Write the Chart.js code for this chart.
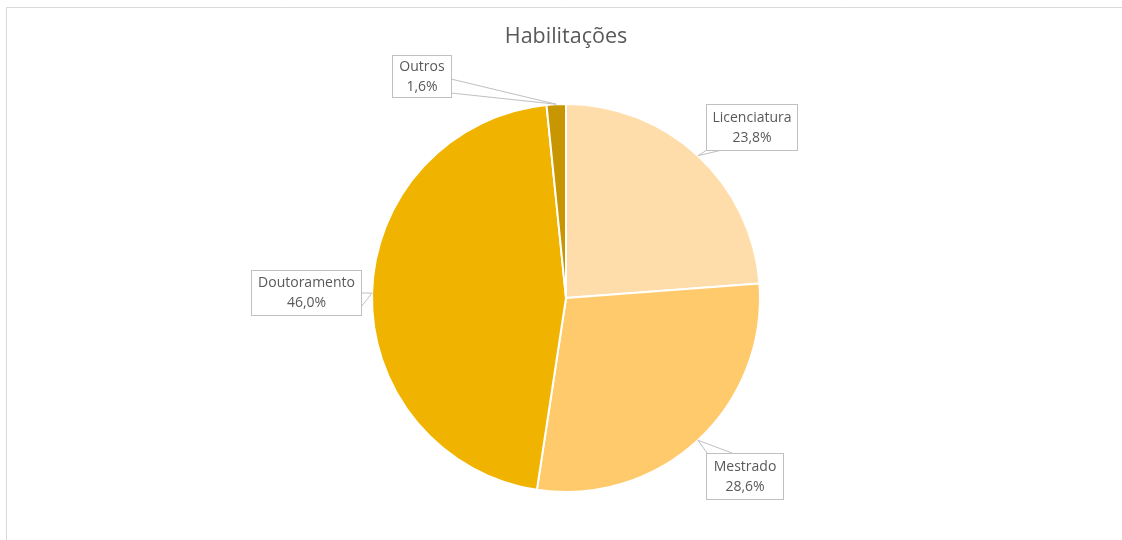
<!DOCTYPE html>
<html>
<head>
<meta charset="utf-8">
<script src="https://cdn.jsdelivr.net/npm/chart.js@4"></script>
<style>
    html, body { margin: 0; padding: 0; background: #ffffff; }
    #wrap { width: 1122px; height: 540px; position: relative; }
</style>
</head>
<body>
<div id="wrap"><canvas id="pie-chart" width="1122" height="540"></canvas></div>
<script>
// dados do gráfico
const titulo = 'Habilitações';
const categorias = ['Licenciatura', 'Mestrado', 'Doutoramento', 'Outros'];
const percentagens = [23.8, 28.6, 46.0, 1.6];
const cores = ['#FFDDAA', '#FFCA6C', '#F0B400', '#C89600'];

// caixas das etiquetas: rect + base do ponteiro (lado e intervalo)
const caixas = [
    { x: 706, y: 104, w: 91, h: 46, side: 'bottom', a: 707, b: 722 },
    { x: 706, y: 453, w: 77, h: 46, side: 'top', a: 707, b: 732 },
    { x: 251, y: 270, w: 110, h: 45, side: 'right', a: 293, b: 307 },
    { x: 392, y: 55, w: 59, h: 42, side: 'right', a: 79, b: 93 }
];

const fonte = '"Open Sans", Lato, sans-serif';
const corTexto = '#595959';
const corBorda = '#C0C0C0';

const fundoPlugin = {
    id: 'fundo',
    beforeDraw(chart) {
        const ctx = chart.ctx;
        ctx.save();
        ctx.fillStyle = '#ffffff';
        ctx.fillRect(0, 0, chart.width, chart.height);
        ctx.strokeStyle = '#D9D9D9';
        ctx.lineWidth = 1;
        ctx.beginPath();
        ctx.moveTo(6.5, chart.height);
        ctx.lineTo(6.5, 7.5);
        ctx.lineTo(chart.width, 7.5);
        ctx.stroke();

        // título
        ctx.fillStyle = corTexto;
        ctx.font = '21.5px ' + fonte;
        ctx.textAlign = 'center';
        ctx.textBaseline = 'middle';
        ctx.fillText(titulo, 566, 37);
        ctx.restore();
    }
};

const etiquetasPlugin = {
    id: 'etiquetas',
    afterDatasetsDraw(chart) {
        const ctx = chart.ctx;
        const meta = chart.getDatasetMeta(0);
        ctx.save();
        meta.data.forEach((arc, i) => {
            const c = caixas[i];
            const mid = (arc.startAngle + arc.endAngle) / 2;
            const tx = arc.x + Math.cos(mid) * arc.outerRadius;
            const ty = arc.y + Math.sin(mid) * arc.outerRadius;
            let p1, p2;
            if (c.side === 'bottom') { p1 = [c.a, c.y + c.h]; p2 = [c.b, c.y + c.h]; }
            else if (c.side === 'top') { p1 = [c.a, c.y]; p2 = [c.b, c.y]; }
            else if (c.side === 'right') { p1 = [c.x + c.w, c.a]; p2 = [c.x + c.w, c.b]; }
            else { p1 = [c.x, c.a]; p2 = [c.x, c.b]; }

            ctx.lineWidth = 1;
            ctx.strokeStyle = corBorda;
            ctx.fillStyle = '#ffffff';
            ctx.beginPath();
            ctx.moveTo(p1[0], p1[1]);
            ctx.lineTo(tx, ty);
            ctx.lineTo(p2[0], p2[1]);
            ctx.closePath();
            ctx.fill();
            ctx.beginPath();
            ctx.moveTo(p1[0], p1[1]);
            ctx.lineTo(tx, ty);
            ctx.lineTo(p2[0], p2[1]);
            ctx.stroke();

            ctx.fillRect(c.x + 0.5, c.y + 0.5, c.w, c.h);
            ctx.strokeRect(c.x + 0.5, c.y + 0.5, c.w, c.h);

            ctx.fillStyle = corTexto;
            ctx.font = '14px ' + fonte;
            ctx.textAlign = 'center';
            ctx.textBaseline = 'middle';
            const cx = c.x + c.w / 2 + 0.5;
            const cy = c.y + c.h / 2;
            ctx.fillText(categorias[i], cx, cy - 9);
            ctx.fillText(percentagens[i].toFixed(1).replace('.', ',') + '%', cx, cy + 11);
        });
        ctx.restore();
    }
};

new Chart(document.getElementById('pie-chart').getContext('2d'), {
    type: 'pie',
    data: {
        labels: categorias,
        datasets: [{
            data: percentagens,
            backgroundColor: cores,
            borderColor: '#ffffff',
            borderWidth: 2
        }]
    },
    options: {
        responsive: false,
        animation: false,
        layout: {
            padding: { top: 103, bottom: 47, left: 10, right: 0 }
        },
        plugins: {
            legend: { display: false },
            tooltip: { enabled: false },
            title: { display: false }
        }
    },
    plugins: [fundoPlugin, etiquetasPlugin]
});
</script>
</body>
</html>
